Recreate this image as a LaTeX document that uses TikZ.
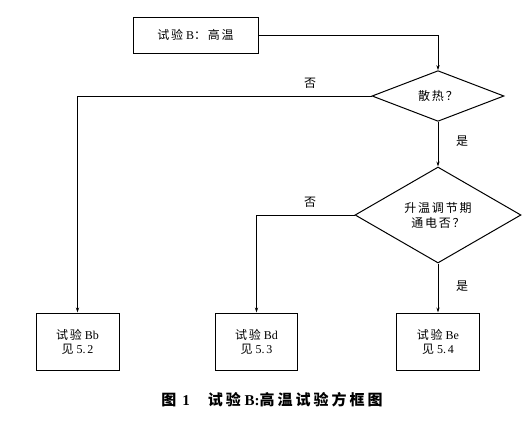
\documentclass[tikz,border=0pt]{standalone}
\usepackage{fontspec}
\setmainfont{Liberation Serif}
\newfontfamily\cjk{Noto Sans CJK SC}[LetterSpace=15]
\newfontfamily\cjkcap{Noto Sans CJK SC}[LetterSpace=20]
\usetikzlibrary{shapes.geometric,arrows.meta}
\newcommand{\zh}[1]{{\cjk #1}}
\newcommand{\zhc}[1]{{\cjkcap\bfseries #1}}
\tikzset{
  box/.style={draw, line width=1pt, inner sep=0pt, align=center, font=\fontsize{12}{14}\selectfont},
  dia/.style={draw, diamond, line width=1pt, inner sep=0pt, align=center, font=\fontsize{12}{15}\selectfont},
  conn/.style={line width=0.6pt, -{Stealth[length=5pt,width=3.2pt]}},
  lbl/.style={font=\fontsize{12}{12}\selectfont}
}
\begin{document}
\begin{tikzpicture}[x=1pt,y=-1pt]
\useasboundingbox (0,0) rectangle (531,421);
\node[box, minimum width=125pt, minimum height=36pt] (start) at (195.5,35) {\zh{试验} B\zh{：高温}};
\node[dia, minimum width=132pt, minimum height=46pt] (d1) at (438,96) {\zh{散热？}};
\node[dia, minimum width=166pt, minimum height=96pt] (d2) at (438,215) {\zh{升温调节期}\\\zh{通电否？}};
\node[box, minimum width=83pt, minimum height=57pt] (bb) at (77.5,341.5) {\zh{试验} Bb\\\zh{见} 5.\,2};
\node[box, minimum width=82pt, minimum height=57pt] (bd) at (256.5,341.5) {\zh{试验} Bd\\\zh{见} 5.\,3};
\node[box, minimum width=83pt, minimum height=57pt] (be) at (438,341.5) {\zh{试验} Be\\\zh{见} 5.\,4};
\draw[conn] (start.east) -| (d1.north);
\draw[conn] (d1.west) -| (bb.north);
\draw[conn] (d1.south) -- (d2.north);
\draw[conn] (d2.west) -| (bd.north);
\draw[conn] (d2.south) -- (be.north);
\node[lbl] (n1) at (310,83) {\zh{否}};
\node[lbl] (y1) at (462,141) {\zh{是}};
\node[lbl] (n2) at (310,202) {\zh{否}};
\node[lbl] (y2) at (462,286) {\zh{是}};
\node[font=\fontsize{15}{16}\selectfont\bfseries] (cap) at (272,400) {\zhc{图}\hspace{6pt}1\hspace{18pt}\zhc{试验} B:\zhc{高温试验方框图}};
\end{tikzpicture}
\end{document}
